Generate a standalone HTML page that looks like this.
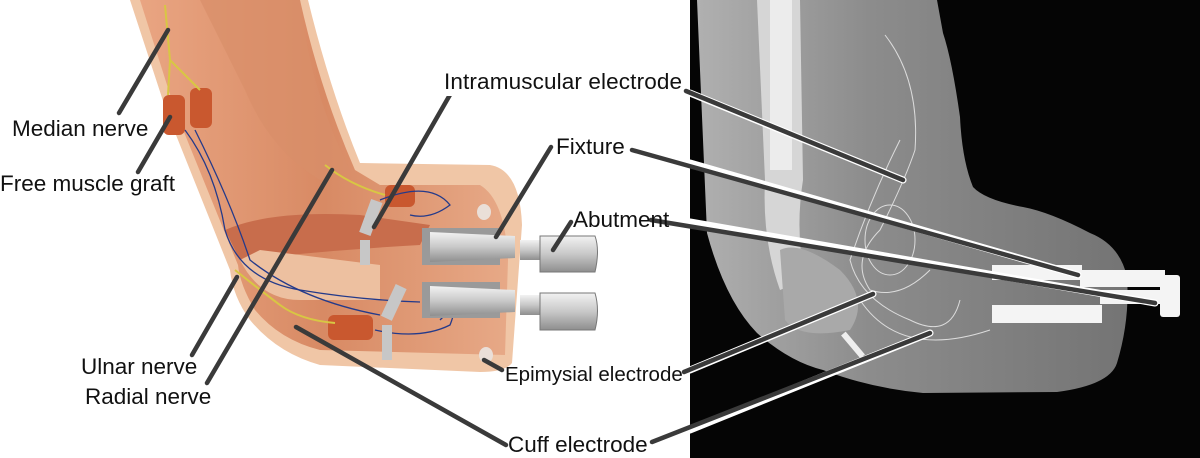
<!DOCTYPE html>
<html><head><meta charset="utf-8"><style>
html,body{margin:0;padding:0;background:#fff}
svg{display:block}
text{font-family:"Liberation Sans",Arial,sans-serif;font-size:22.5px;fill:#111}
</style></head><body>
<svg width="1200" height="458" viewBox="0 0 1200 458" xmlns="http://www.w3.org/2000/svg">
<defs>
<linearGradient id="mus" x1="0" y1="0" x2="1" y2="0">
<stop offset="0" stop-color="#e9a582"/><stop offset="0.5" stop-color="#d88a64"/><stop offset="1" stop-color="#e7a987"/>
</linearGradient>
<linearGradient id="xr" x1="0" y1="0" x2="1" y2="0">
<stop offset="0" stop-color="#b0b0b0"/><stop offset="0.4" stop-color="#8c8c8c"/><stop offset="1" stop-color="#747474"/>
</linearGradient>
<linearGradient id="metal" x1="0" y1="0" x2="0" y2="1">
<stop offset="0" stop-color="#f2f2f2"/><stop offset="0.5" stop-color="#c8c8c8"/><stop offset="1" stop-color="#8e8e8e"/>
</linearGradient>
</defs>

<!-- X-ray panel -->
<rect x="690" y="0" width="510" height="458" fill="#050505"/>
<path d="M697,0 L707,233 Q725,300 757,333 Q790,362 823,370 Q870,388 923,393 L1057,392 Q1110,385 1117,363 Q1130,320 1127,277 Q1120,245 1090,233 Q1050,212 1023,207 Q985,200 973,187 Q962,160 960,117 Q952,60 943,33 L937,0 Z" fill="url(#xr)"/>
<path d="M757,0 L800,0 L803,180 Q795,230 805,280 L780,290 Q762,240 765,180 Z" fill="#d6d6d6"/>
<rect x="770" y="0" width="22" height="170" fill="#ececec"/>
<path d="M780,250 Q800,240 840,270 Q870,300 850,330 Q800,340 785,320 Z" fill="#a9a9a9"/>
<g fill="#f4f4f4">
<rect x="992" y="265" width="90" height="15"/>
<rect x="1080" y="270" width="85" height="17"/>
<rect x="992" y="305" width="110" height="18"/>
<rect x="1100" y="290" width="65" height="14"/>
<rect x="1160" y="275" width="20" height="42" rx="3"/>
</g>
<g fill="none" stroke="#dcdcdc" stroke-width="1">
<path d="M885,35 Q920,80 915,150 Q905,180 880,230 Q850,260 870,290 Q900,300 930,270"/>
<path d="M900,140 Q870,200 850,260 Q860,300 910,320 Q950,340 960,300"/>
<ellipse cx="890" cy="240" rx="25" ry="35"/>
<path d="M860,300 Q900,360 990,330"/>
</g>
<rect x="850" y="330" width="6" height="30" fill="#eee" transform="rotate(-40 853 345)"/>

<!-- Left illustration -->
<path d="M130,0 L308,0 Q330,90 360,163 L490,165 Q520,170 522,225 L512,363 Q505,372 480,372 L320,365 Q277,353 250,320 Q233,297 230,270 L166,110 Z" fill="#f0c6a6"/>
<path d="M140,0 L300,0 Q320,90 355,170 L380,185 L480,185 Q505,200 508,260 L505,355 L320,350 Q280,340 255,310 Q240,285 238,265 L175,110 Z" fill="url(#mus)"/>
<path d="M200,0 L300,0 Q310,90 350,170 L320,180 Q270,150 245,90 Z" fill="#d98f6a" opacity="0.7"/>
<path d="M225,230 Q270,210 360,215 L430,225 L420,245 Q330,250 240,260 Z" fill="#c86d4c"/>
<path d="M240,260 Q260,300 300,300 L380,300 L380,265 L260,250 Z" fill="#edc0a0"/>
<rect x="163" y="95" width="22" height="40" rx="6" fill="#c9582f"/>
<rect x="190" y="88" width="22" height="40" rx="6" fill="#c9582f"/>
<rect x="328" y="315" width="45" height="25" rx="6" fill="#c9582f"/>
<rect x="385" y="185" width="30" height="22" rx="6" fill="#c9582f"/>
<g fill="none" stroke="#d8c743" stroke-width="2">
<path d="M165,5 L170,60 L168,95 M170,60 L200,90"/>
<path d="M325,165 Q350,185 385,195"/>
<path d="M235,270 Q260,290 280,305 Q300,320 335,323"/>
</g>
<g fill="none" stroke="#243a8a" stroke-width="1.3">
<path d="M185,130 Q215,170 225,230 Q240,280 300,290 Q360,300 420,302"/>
<path d="M195,130 Q230,200 250,260 Q300,300 380,315"/>
<path d="M380,200 Q430,180 450,205 Q430,220 410,215"/>
<path d="M375,330 Q420,340 450,325 Q460,300 440,320"/>
</g>
<g fill="#c7c7c7">
<rect x="365" y="200" width="12" height="35" transform="rotate(20 371 217)"/>
<rect x="360" y="240" width="10" height="25"/>
<rect x="388" y="285" width="12" height="35" transform="rotate(25 394 302)"/>
<rect x="382" y="325" width="10" height="35"/>
<ellipse cx="484" cy="212" rx="7" ry="8" fill="#eadfd8"/>
<ellipse cx="486" cy="355" rx="7" ry="8" fill="#eadfd8"/>
</g>
<g>
<path d="M422,228 L500,228 L500,265 L422,265 Z" fill="#9a9a9a"/>
<path d="M430,232 L515,236 L515,258 L430,262 Z" fill="url(#metal)"/>
<rect x="520" y="240" width="22" height="20" fill="url(#metal)"/>
<path d="M540,236 L595,236 Q600,250 595,272 L540,272 Z" fill="url(#metal)" stroke="#777" stroke-width="1"/>
<path d="M422,282 L500,282 L500,318 L422,318 Z" fill="#9a9a9a"/>
<path d="M430,286 L515,290 L515,312 L430,316 Z" fill="url(#metal)"/>
<rect x="520" y="295" width="22" height="20" fill="url(#metal)"/>
<path d="M540,293 L595,293 Q600,310 595,330 L540,330 Z" fill="url(#metal)" stroke="#777" stroke-width="1"/>
</g>

<g stroke-linecap="round" fill="none">
<g stroke="#fff" stroke-width="7">
<line x1="690" y1="93" x2="903" y2="180"/>
<line x1="690" y1="163" x2="1078" y2="275"/>
<line x1="690" y1="222" x2="1155" y2="303"/>
<line x1="690" y1="370" x2="873" y2="294"/>
<line x1="690" y1="430" x2="930" y2="333"/>
</g>
<g stroke="#3a3a3a" stroke-width="4.5">
<line x1="119" y1="113" x2="168" y2="30"/>
<line x1="138" y1="172" x2="170" y2="117"/>
<line x1="192" y1="355" x2="237" y2="277"/>
<line x1="207" y1="383" x2="332" y2="170"/>
<line x1="451" y1="93" x2="374" y2="227"/>
<line x1="551" y1="147" x2="496" y2="237"/>
<line x1="571" y1="222" x2="553" y2="250"/>
<line x1="502" y1="370" x2="484" y2="360"/>
<line x1="506" y1="445" x2="296" y2="327"/>
<line x1="686" y1="91" x2="903" y2="180"/>
<line x1="632" y1="150" x2="1078" y2="275"/>
<line x1="651" y1="220" x2="1155" y2="303"/>
<line x1="684" y1="372" x2="873" y2="294"/>
<line x1="652" y1="442" x2="930" y2="333"/>
</g>
</g>

<rect x="440" y="68" width="243" height="28" fill="#fff"/>
<text x="444" y="89" textLength="238">Intramuscular electrode</text>
<text x="556" y="154">Fixture</text>
<text x="573" y="227">Abutment</text>
<text x="12" y="136">Median nerve</text>
<text x="0" y="191">Free muscle graft</text>
<text x="81" y="374">Ulnar nerve</text>
<text x="85" y="404">Radial nerve</text>
<text x="505" y="381" style="font-size:20.5px">Epimysial electrode</text>
<text x="508" y="452">Cuff electrode</text>
</svg>
</body></html>
